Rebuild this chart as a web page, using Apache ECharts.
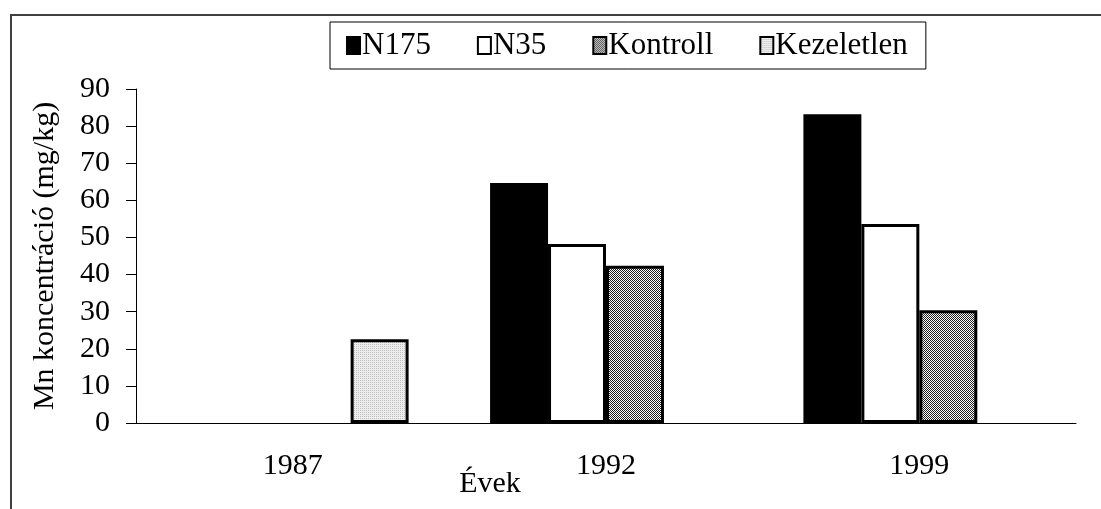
<!DOCTYPE html>
<html>
<head>
<meta charset="utf-8">
<script src="https://cdn.jsdelivr.net/npm/echarts@6/dist/echarts.min.js"></script>
<style>
  html, body { margin: 0; padding: 0; background: #fff; }
  #chart { width: 1101px; height: 509px; }
</style>
</head>
<body>
<div id="chart"></div>
<script>
const years = ["1987", "1992", "1999"];
const n175 = ["-", 64.7, 83.2];
const n35 = ["-", 48.2, 53.6];
const kontroll = ["-", 42.4, 30.4];
const kezeletlen = [22.6, "-", "-"];
const yTicks = [0, 10, 20, 30, 40, 50, 60, 70, 80, 90];

const FONT = "Liberation Serif";

// small tile patterns like the excel fills
function makePattern(draw) {
  const c = document.createElement("canvas");
  c.width = 4;
  c.height = 4;
  const ctx = c.getContext("2d");
  draw(ctx);
  return { image: c, repeat: "repeat" };
}

const hatch = makePattern((ctx) => {
  ctx.fillStyle = "#ffffff";
  ctx.fillRect(0, 0, 4, 4);
  ctx.fillStyle = "#202020";
  for (let i = 0; i < 4; i++) {
    ctx.fillRect(i, i, 1, 1);
    ctx.fillRect(i, (i + 2) % 4, 1, 1);
  }
});

const dots = makePattern((ctx) => {
  ctx.fillStyle = "#eeeeee";
  ctx.fillRect(0, 0, 4, 4);
  ctx.fillStyle = "#bdbdbd";
  ctx.fillRect(0, 0, 1, 1);
  ctx.fillRect(2, 2, 1, 1);
  ctx.fillRect(2, 0, 1, 1);
  ctx.fillRect(0, 2, 1, 1);
});

const chart = echarts.init(document.getElementById("chart"));

const barBase = {
  type: "bar",
  barGap: "0%",
  barCategoryGap: "26%",
};

chart.setOption({
  animation: false,
  textStyle: { fontFamily: FONT, color: "#000" },
  graphic: [
    {
      type: "rect",
      z: -1,
      shape: { x: 11, y: 15, width: 1200, height: 600 },
      style: { fill: "none", stroke: "#404040", lineWidth: 2 },
    },
  ],
  legend: {
    left: 330,
    top: 22,
    padding: [8, 18, 8, 16],
    itemGap: 46,
    itemWidth: 13,
    itemHeight: 17,
    icon: "rect",
    borderColor: "#000",
    borderWidth: 1,
    itemStyle: { borderWidth: 2 },
    textStyle: { fontFamily: FONT, fontSize: 31, color: "#000", padding: [0, 0, 0, -3] },
    data: ["N175", "N35", "Kontroll", "Kezeletlen"],
  },
  grid: {
    left: 136,
    right: 25,
    top: 89,
    bottom: 86,
    outerBoundsMode: "none",
  },
  xAxis: {
    type: "category",
    data: years,
    name: "Évek",
    nameLocation: "middle",
    nameGap: 46,
    nameMoveOverlap: false,
    nameTextStyle: { fontFamily: FONT, fontSize: 30, color: "#000", padding: [0, 232, 0, 0] },
    axisLine: { lineStyle: { color: "#000", width: 1 } },
    axisTick: { length: 9, lineStyle: { color: "#000" } },
    axisLabel: { fontFamily: FONT, fontSize: 30, color: "#000", margin: 28 },
  },
  yAxis: {
    type: "value",
    min: yTicks[0],
    max: yTicks[yTicks.length - 1],
    interval: 10,
    name: "Mn koncentráció (mg/kg)",
    nameLocation: "middle",
    nameGap: 76,
    nameMoveOverlap: false,
    nameTextStyle: { fontFamily: FONT, fontSize: 30, color: "#000" },
    axisLine: { show: true, lineStyle: { color: "#000", width: 1 } },
    axisTick: { show: true, length: 10, lineStyle: { color: "#000" } },
    axisLabel: { fontFamily: FONT, fontSize: 30, color: "#000", margin: 26 },
    splitLine: { show: false },
  },
  series: [
    {
      ...barBase,
      name: "N175",
      data: n175,
      itemStyle: { color: "#000", borderColor: "#000", borderWidth: 3 },
    },
    {
      ...barBase,
      name: "N35",
      data: n35,
      itemStyle: { color: "#fff", borderColor: "#000", borderWidth: 3 },
    },
    {
      ...barBase,
      name: "Kontroll",
      data: kontroll,
      itemStyle: { color: hatch, borderColor: "#000", borderWidth: 3 },
    },
    {
      ...barBase,
      name: "Kezeletlen",
      data: kezeletlen,
      itemStyle: { color: dots, borderColor: "#000", borderWidth: 3 },
    },
  ],
});
</script>
</body>
</html>
